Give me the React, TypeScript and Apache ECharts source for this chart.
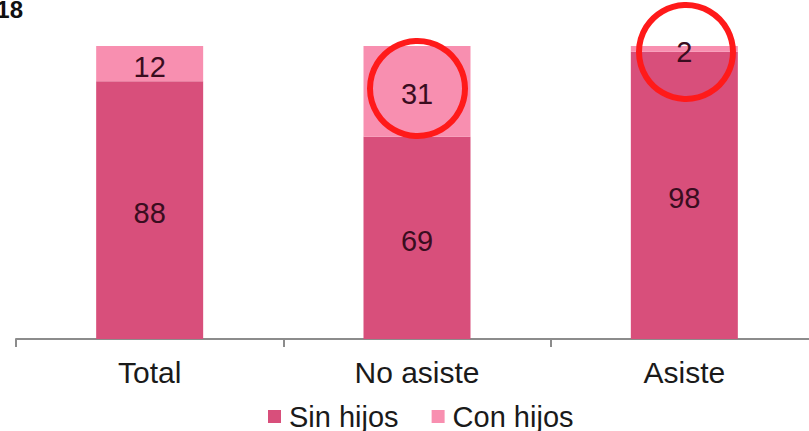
import React, { useEffect, useRef } from "react";
import * as echarts from "echarts";

const categories = ["Total", "No asiste", "Asiste"];
const sinHijos = [88, 69, 98];
const conHijos = [12, 31, 2];
const seriesNames = ["Sin hijos", "Con hijos"];
const cornerText = "18";

const FONT = "'Liberation Sans', Arial, sans-serif";

export default function App() {
  const ref = useRef<HTMLDivElement>(null);

  useEffect(() => {
    if (!ref.current) return;
    const chart = echarts.init(ref.current, undefined, { renderer: "svg" });
    const labelStyle = {
      show: true,
      position: "inside" as const,
      color: "#3a0d1f",
      fontSize: 29,
      fontFamily: FONT,
      offset: [0, 3],
    };
    chart.setOption({
      animation: false,
      backgroundColor: "#ffffff",
      grid: { left: 16, top: 46, right: 0, bottom: 92, containLabel: false },
      legend: {
        data: seriesNames,
        left: 268,
        top: 402,
        padding: 0,
        itemWidth: 13,
        itemHeight: 13,
        itemGap: 33,
        icon: "rect",
        textStyle: { fontSize: 29, fontFamily: FONT, color: "#1a1a1a", padding: [0, 0, 0, 3] },
      },
      xAxis: {
        type: "category",
        data: categories,
        axisLine: { lineStyle: { color: "#8c8c8c", width: 2 } },
        axisTick: { show: true, length: 8, lineStyle: { color: "#8c8c8c", width: 2 } },
        axisLabel: { fontSize: 30, fontFamily: FONT, color: "#1a1a1a", margin: 18 },
      },
      yAxis: { type: "value", min: 0, max: 100, show: false },
      series: [
        {
          name: seriesNames[0],
          type: "bar",
          stack: "t",
          barWidth: 107,
          data: sinHijos,
          itemStyle: { color: "#d84f7b" },
          label: labelStyle,
        },
        {
          name: seriesNames[1],
          type: "bar",
          stack: "t",
          barWidth: 107,
          data: conHijos,
          itemStyle: { color: "#f88fb0" },
          label: labelStyle,
        },
      ],
      graphic: [
        {
          type: "text",
          x: 23,
          y: 9.5,
          style: {
            text: cornerText,
            fontSize: 24,
            fontWeight: "bold",
            fontFamily: FONT,
            fill: "#111111",
            align: "right",
            verticalAlign: "middle",
          },
        },
        {
          type: "circle",
          shape: { cx: 417.5, cy: 88.5, r: 47.5 },
          style: { fill: "none", stroke: "#ff1a1a", lineWidth: 6 },
          z: 100,
        },
        {
          type: "circle",
          shape: { cx: 686, cy: 52, r: 47 },
          style: { fill: "none", stroke: "#ff1a1a", lineWidth: 6 },
          z: 100,
        },
      ],
    });
    return () => chart.dispose();
  }, []);

  return (
    <div
      ref={ref}
      style={{ position: "fixed", left: 0, top: 0, width: 818, height: 431 }}
    />
  );
}
